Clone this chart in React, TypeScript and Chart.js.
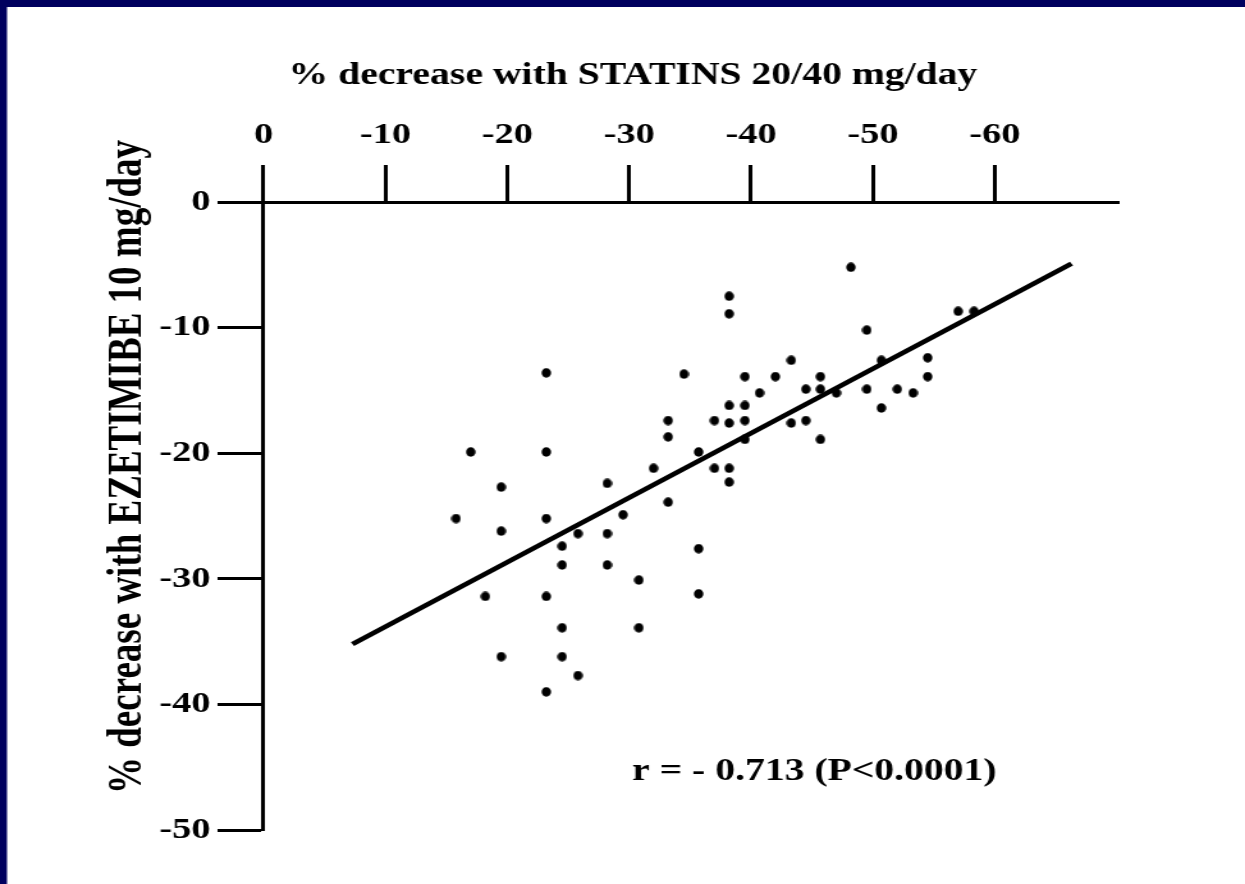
import React, { useEffect, useRef } from "react";
import { Chart, registerables } from "chart.js";

Chart.register(...registerables);

// ---------- data ----------
const xTickValues = [0, -10, -20, -30, -40, -50, -60];
const xTickLabels = ["0", "-10", "-20", "-30", "-40", "-50", "-60"];
const yTickValues = [0, -10, -20, -30, -40, -50];
const yTickLabels = ["0", "-10", "-20", "-30", "-40", "-50"];

const statinX = [
  -15.8, -17.0, -18.2, -19.5, -19.5, -19.5, -23.2, -23.2, -23.2, -23.2, -23.2,
  -24.5, -24.5, -24.5, -24.5, -25.8, -25.8, -28.2, -28.2, -28.2, -29.5, -30.8,
  -30.8, -32.0, -33.2, -33.2, -33.2, -34.5, -35.7, -35.7, -35.7, -37.0, -37.0,
  -38.2, -38.2, -38.2, -38.2, -38.2, -38.2, -39.5, -39.5, -39.5, -39.5, -40.7,
  -42.0, -43.3, -43.3, -44.5, -44.5, -45.7, -45.7, -45.7, -47.0, -48.2, -49.5,
  -49.5, -50.7, -50.7, -52.0, -53.3, -54.5, -54.5, -57.0, -58.3,
];
const ezetimibeY = [
  -25.2, -19.9, -31.4, -22.7, -26.2, -36.2, -13.6, -19.9, -25.2, -31.4, -39.0,
  -27.4, -28.9, -33.9, -36.2, -26.4, -37.7, -22.4, -26.4, -28.9, -24.9, -30.1,
  -33.9, -21.2, -17.4, -18.7, -23.9, -13.7, -19.9, -27.6, -31.2, -17.4, -21.2,
  -7.5, -8.9, -16.2, -17.6, -21.2, -22.3, -13.9, -16.2, -17.4, -18.9, -15.2,
  -13.9, -12.6, -17.6, -14.9, -17.4, -13.9, -14.9, -18.9, -15.2, -5.2, -10.2,
  -14.9, -12.6, -16.4, -14.9, -15.2, -12.4, -13.9, -8.7, -8.7,
];

const fitLineX = [-7.3, -66.3];
const fitLineY = [-35.2, -4.9];

const xTitle = "% decrease with STATINS 20/40 mg/day";
const yTitle = "% decrease with EZETIMIBE 10 mg/day";
const annotationText = "r = - 0.713 (P<0.0001)";
const annotationX = -45.2;
const annotationY = -45.4;

const xMin = -70.2;
const xMax = 0;
const yMin = -50;
const yMax = 0;

// ---------- layout ----------
const W = 973; // internal canvas width, shown stretched to 1245px
const H = 884;
const SX = 1245 / W;
const NAVY = "#00005e";
const FAMILY = "'Liberation Serif', 'Times New Roman', serif";

export default function App() {
  const ref = useRef<HTMLCanvasElement>(null);

  useEffect(() => {
    const canvas = ref.current;
    if (!canvas) return;

    // round dot once the canvas is stretched horizontally
    const dot = document.createElement("canvas");
    dot.width = 8;
    dot.height = 10;
    const dctx = dot.getContext("2d")!;
    dctx.fillStyle = "#000";
    dctx.beginPath();
    dctx.ellipse(4, 5, 3.7, 4.7, 0, 0, Math.PI * 2);
    dctx.fill();

    const frame = {
      id: "frame",
      beforeDraw(c: any) {
        const ctx = c.ctx;
        ctx.save();
        ctx.fillStyle = NAVY;
        ctx.fillRect(0, 0, c.width, c.height);
        ctx.fillStyle = "#ffffff";
        ctx.fillRect(7 / SX, 7, c.width, c.height);
        ctx.restore();
      },
    };

    const texts = {
      id: "texts",
      afterDraw(c: any) {
        const ctx = c.ctx;
        const xs = c.scales.x;
        const ys = c.scales.y;
        ctx.save();
        ctx.fillStyle = "#000";
        ctx.textAlign = "center";
        ctx.textBaseline = "middle";
        ctx.font = `bold 31px ${FAMILY}`;
        ctx.fillText(xTitle, 633 / SX, 76);
        ctx.fillText(
          annotationText,
          xs.getPixelForValue(annotationX),
          ys.getPixelForValue(annotationY)
        );
        ctx.save();
        ctx.translate(128 / SX, 467);
        ctx.rotate(-Math.PI / 2);
        ctx.font = `bold 37px ${FAMILY}`;
        ctx.fillText(yTitle, 0, 0);
        ctx.restore();
        ctx.restore();
      },
    };

    const tickFont = { family: FAMILY, weight: "bold" as const, size: 30 };

    const chart = new Chart(canvas, {
      type: "scatter",
      data: {
        datasets: [
          {
            type: "line",
            data: fitLineX.map((x, i) => ({ x, y: fitLineY[i] })),
            borderColor: "#000",
            borderWidth: 4.5,
            pointRadius: 0,
            fill: false,
            tension: 0,
          } as any,
          {
            type: "scatter",
            data: statinX.map((x, i) => ({ x, y: ezetimibeY[i] })),
            pointStyle: dot as any,
            pointRadius: 5,
            backgroundColor: "#000",
            borderColor: "#000",
            borderWidth: 0,
          },
        ],
      },
      options: {
        responsive: false,
        animation: false,
        devicePixelRatio: 1,
        events: [],
        layout: {
          padding: { left: 0, top: 0, right: W - 1119 / SX, bottom: H - 830 },
        },
        plugins: {
          legend: { display: false },
          tooltip: { enabled: false },
        },
        scales: {
          x: {
            type: "linear",
            position: "top",
            reverse: true,
            min: xMin,
            max: xMax,
            afterBuildTicks: (s: any) => {
              s.ticks = xTickValues.map((v) => ({ value: v }));
            },
            afterFit: (s: any) => {
              s.height = 202;
            },
            grid: {
              drawOnChartArea: false,
              drawTicks: true,
              tickLength: 37,
              tickWidth: 3,
              tickColor: "#000",
            },
            border: { display: true, color: "#000", width: 3 },
            ticks: {
              color: "#000",
              font: tickFont,
              padding: 12,
              maxRotation: 0,
              autoSkip: false,
              callback: (v: any) => {
                const i = xTickValues.indexOf(Number(v));
                return i >= 0 ? xTickLabels[i] : "";
              },
            },
          },
          y: {
            type: "linear",
            position: "left",
            min: yMin,
            max: yMax,
            afterBuildTicks: (s: any) => {
              s.ticks = yTickValues.map((v) => ({ value: v }));
            },
            afterFit: (s: any) => {
              s.width = 263.5 / SX;
            },
            grid: {
              drawOnChartArea: false,
              drawTicks: true,
              tickLength: 46 / SX,
              tickWidth: 3,
              tickColor: "#000",
            },
            border: { display: true, color: "#000", width: 3 },
            ticks: {
              color: "#000",
              font: tickFont,
              padding: 5.5,
              autoSkip: false,
              callback: (v: any) => {
                const i = yTickValues.indexOf(Number(v));
                return i >= 0 ? yTickLabels[i] : "";
              },
            },
          },
        },
      },
      plugins: [frame, texts],
    });

    return () => chart.destroy();
  }, []);

  return (
    <div
      style={{
        position: "fixed",
        left: 0,
        top: 0,
        width: 1245,
        height: 884,
        overflow: "hidden",
        background: "#fff",
      }}
    >
      <canvas
        ref={ref}
        width={W}
        height={H}
        style={{ width: "1245px", height: "884px", display: "block" }}
      />
    </div>
  );
}
